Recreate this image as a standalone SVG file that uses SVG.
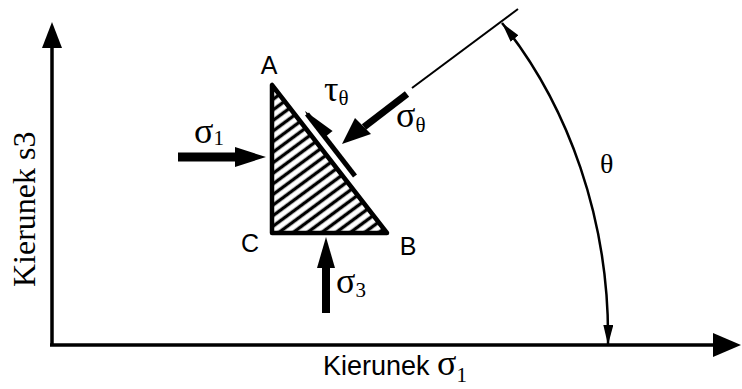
<svg xmlns="http://www.w3.org/2000/svg" width="742" height="389" viewBox="0 0 742 389">
<style>
.sans{font-family:"Liberation Sans",Arial,sans-serif;fill:#000}
.serif{font-family:"Liberation Serif","Times New Roman",serif;fill:#000}
.ax{stroke:#000;stroke-width:3.5;fill:none}
.thin{stroke:#000;stroke-width:2;fill:none}
.hd{fill:#000;stroke:none}
</style>
<defs>
<pattern id="hatch" patternUnits="userSpaceOnUse" width="8.5" height="8.5" patternTransform="rotate(-36.5)">
<rect width="8.5" height="8.5" fill="#fff"/>
<line x1="-1" y1="4.25" x2="9.5" y2="4.25" stroke="#000" stroke-width="3.4"/>
</pattern>
<marker id="arcHead" viewBox="0 0 20 10" refX="20" refY="5" markerWidth="20" markerHeight="10" markerUnits="userSpaceOnUse" orient="auto-start-reverse">
<path d="M0,0 L20,5 L0,10 Z" fill="#000"/>
</marker>
</defs>
<rect width="742" height="389" fill="#fff"/>

<g id="axes">
<line class="ax" x1="52" y1="345" x2="52" y2="44"/>
<polygon class="hd" points="52,22 42,48 62,48"/>
<line class="ax" x1="50" y1="345" x2="716" y2="345"/>
<polygon class="hd" points="741,345 713,333 713,357"/>
</g>

<g id="element">
<polygon points="272,85 272,233 387,233" fill="url(#hatch)" stroke="#000" stroke-width="4.5" stroke-linejoin="round"/>
</g>

<g id="connectors">
<line x1="178" y1="157" x2="238" y2="157" stroke="#000" stroke-width="9"/>
<polygon class="hd" points="266,157 235,147 235,167"/>
<line x1="326" y1="313" x2="326" y2="265" stroke="#000" stroke-width="8"/>
<polygon class="hd" points="326,237 317,268 335,268"/>
<line x1="407" y1="94" x2="364" y2="127" stroke="#000" stroke-width="7"/>
<polygon class="hd" points="342,144 355,118 371,134"/>
<line x1="307" y1="114" x2="355" y2="176" stroke="#000" stroke-width="5"/>
<polygon class="hd" points="305,111 332.6,131 324.7,137.3 308,118"/>
<line class="thin" x1="412" y1="88" x2="518" y2="9"/>
<path d="M608,345 C610,220 568,105 502,23" stroke="#000" stroke-width="2.5" fill="none" marker-start="url(#arcHead)" marker-end="url(#arcHead)"/>
</g>

<g id="labels">
<text class="sans" x="269" y="74" font-size="25" text-anchor="middle">A</text>
<text class="sans" x="250" y="252" font-size="25" text-anchor="middle">C</text>
<text class="sans" x="408" y="255" font-size="25" text-anchor="middle">B</text>
<text class="serif" x="194" y="143" font-size="36">σ<tspan font-size="21" dy="2">1</tspan></text>
<text class="serif" x="336" y="293" font-size="36">σ<tspan font-size="21" dy="4">3</tspan></text>
<text class="serif" x="396" y="127" font-size="36">σ<tspan font-size="21" dy="5">θ</tspan></text>
<text class="serif" x="324" y="101" font-size="36">τ<tspan font-size="21" dy="4">θ</tspan></text>
<text class="serif" x="600" y="173" font-size="28">θ</text>
<text class="serif" transform="translate(35,287) rotate(-90)" font-size="32">Kierunek s3</text>
<text class="sans" x="323" y="375" font-size="27">Kierunek <tspan class="serif" font-size="36">σ</tspan><tspan class="serif" font-size="21" dy="7">1</tspan></text>
</g>
</svg>
